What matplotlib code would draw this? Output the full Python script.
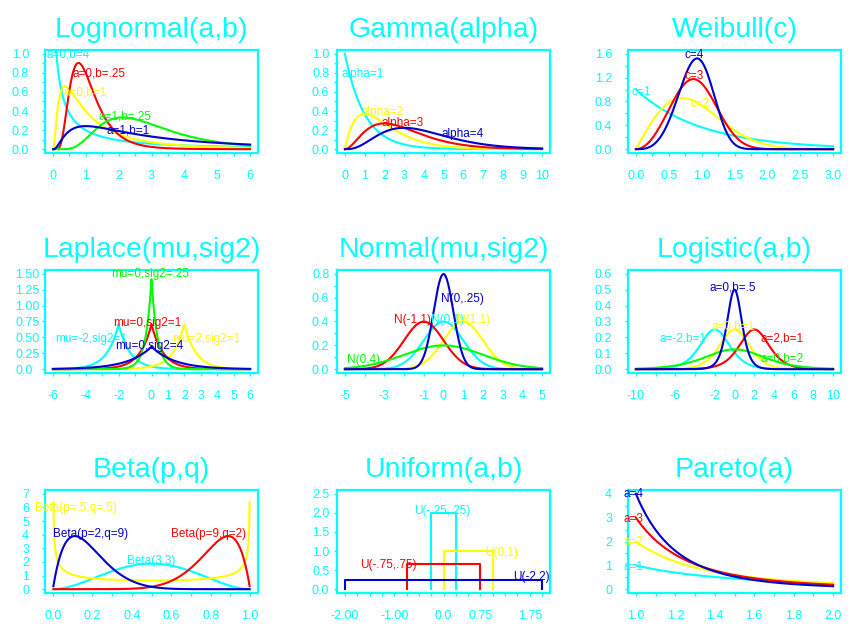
import math
import numpy as np
import matplotlib
matplotlib.use("Agg")
import matplotlib.pyplot as plt

plt.rcParams["font.family"] = ["Liberation Sans", "DejaVu Sans"]

CYAN = "#00ffff"
YELLOW = "#ffff00"
RED = "#ff0000"
GREEN = "#00ff00"
BLUE = "#0000cc"

# Lognormal(a,b): a = mean of log, b = variance of log
logn_a = [0, 0, 0, 1, 1]
logn_b = [4, 1, 0.25, 0.25, 1]
logn_colors = [CYAN, YELLOW, RED, GREEN, BLUE]
logn_labels = ["a=0,b=4", "a=0,b=1", "a=0,b=.25", "a=1,b=.25", "a=1,b=1"]
logn_lx = [0.45, 0.97, 1.39, 2.18, 2.28]
logn_ly = [0.99, 0.59, 0.79, 0.34, 0.195]

# Gamma(alpha)
gamma_alpha = [1, 2, 3, 4]
gamma_colors = [CYAN, YELLOW, RED, BLUE]
gamma_labels = ["alpha=1", "alpha=2", "alpha=3", "alpha=4"]
gamma_lx = [0.91, 1.93, 2.94, 5.96]
gamma_ly = [0.79, 0.386, 0.27, 0.16]

# Weibull(c)
weib_c = [1, 2, 3, 4]
weib_colors = [CYAN, YELLOW, RED, BLUE]
weib_labels = ["c=1", "c=2", "c=3", "c=4"]
weib_lx = [0.08, 0.98, 0.88, 0.88]
weib_ly = [0.965, 0.76, 1.23, 1.58]

# Laplace(mu,sig2)
lap_mu = [-2, 2, 0, 0, 0]
lap_sig2 = [1, 1, 1, 0.25, 4]
lap_colors = [CYAN, YELLOW, RED, GREEN, BLUE]
lap_labels = ["mu=-2,sig2=1", "mu=2,sig2=1", "mu=0,sig2=1", "mu=0,sig2=.25", "mu=0,sig2=4"]
lap_lx = [-3.65, 3.35, -0.23, -0.1, -0.11]
lap_ly = [0.47, 0.47, 0.73, 1.49, 0.37]

# Normal(mu,sig2)
norm_mu = [0, 1, -1, 0, 0]
norm_sig2 = [1, 1, 1, 4, 0.25]
norm_colors = [CYAN, YELLOW, RED, GREEN, BLUE]
norm_labels = ["N(0,1)", "N(1,1)", "N(-1,1)", "N(0,4)", "N(0,.25)"]
norm_lx = [0.22, 1.54, -1.55, -4.06, 0.96]
norm_ly = [0.41, 0.41, 0.41, 0.077, 0.587]

# Logistic(a,b)
logi_a = [-2, 0, 2, 0, 0]
logi_b = [1, 1, 1, 2, 0.5]
logi_colors = [CYAN, YELLOW, RED, GREEN, BLUE]
logi_labels = ["a=-2,b=1", "a=0,b=1", "a=2,b=1", "a=0,b=2", "a=0,b=.5"]
logi_lx = [-5.23, -0.1, 4.83, 4.8, -0.15]
logi_ly = [0.19, 0.27, 0.19, 0.068, 0.515]

# Beta(p,q)
beta_p = [3, 0.5, 9, 2]
beta_q = [3, 0.5, 2, 9]
beta_colors = [CYAN, YELLOW, RED, BLUE]
beta_labels = ["Beta(3,3)", "Beta(p=.5,q=.5)", "Beta(p=9,q=2)", "Beta(p=2,q=9)"]
beta_lx = [0.496, 0.115, 0.79, 0.19]
beta_ly = [2.08, 5.96, 4.07, 4.07]

# Uniform(a,b)
unif_a = [-0.25, 0, -0.75, -2]
unif_b = [0.25, 1, 0.75, 2]
unif_colors = [CYAN, YELLOW, RED, BLUE]
unif_labels = ["U(-.25,.25)", "U(0,1)", "U(-.75,.75)", "U(-2,2)"]
unif_lx = [-0.02, 1.18, -1.12, 1.79]
unif_ly = [2.06, 0.95, 0.64, 0.33]

# Pareto(a)
par_a = [1, 2, 3, 4]
par_colors = [CYAN, YELLOW, RED, BLUE]
par_labels = ["a=1", "a=2", "a=3", "a=4"]
par_lx = [0.99, 0.99, 0.99, 0.99]
par_ly = [0.93, 1.99, 2.96, 4.0]


def style(ax, title, xlim, ylim, xt, xl, yt, yl, ypad=9):
    dx = 0.04 * (xlim[1] - xlim[0])
    dy = 0.04 * (ylim[1] - ylim[0])
    ax.set_xlim(xlim[0] - dx, xlim[1] + dx)
    ax.set_ylim(ylim[0] - dy, ylim[1] + dy)
    ax.set_xticks(xt)
    ax.set_xticklabels(xl)
    ax.set_yticks(yt)
    ax.set_yticklabels(yl)
    for s in ax.spines.values():
        s.set_color(CYAN)
        s.set_linewidth(1.6)
    ax.tick_params(colors=CYAN, labelcolor=CYAN, labelsize=9, length=2.5, width=1)
    ax.tick_params(axis="x", pad=10)
    ax.tick_params(axis="y", pad=ypad)
    ax.set_title(title, color=CYAN, fontsize=20.5, pad=9.5)


def put_text(ax, xs, ys, labels, colors):
    for x, y, s, c in zip(xs, ys, labels, colors):
        ax.text(x, y, s, color=c, fontsize=8.5, ha="center", va="center", clip_on=False)


def fmt(vals, keep, f):
    return [f.format(v) if k else "" for v, k in zip(vals, keep)]


fig = plt.figure(figsize=(8.5, 6.35), dpi=100)
W, H = 850.0, 635.0
lefts = [45, 337, 628]
tops = [50, 270, 490]
axs = []
for r in range(3):
    for c in range(3):
        axs.append(fig.add_axes([lefts[c] / W, 1 - (tops[r] + 103) / H, 213 / W, 103 / H]))

lw = 1.5

# Lognormal
ax = axs[0]
x = np.linspace(0.01, 6, 600)
for a, b, col in zip(logn_a, logn_b, logn_colors):
    s = math.sqrt(b)
    y = np.exp(-(np.log(x) - a) ** 2 / (2 * b)) / (x * s * math.sqrt(2 * math.pi))
    ax.plot(x, y, color=col, lw=lw)
put_text(ax, logn_lx, logn_ly, logn_labels, logn_colors)
xt = np.arange(0, 6.01, 0.5)
yt = np.arange(0, 1.01, 0.1)
style(ax, "Lognormal(a,b)", (0, 6), (0, 1), xt, fmt(xt, [v % 1 == 0 for v in xt], "{:.0f}"),
      yt, fmt(yt, [i % 2 == 0 for i in range(len(yt))], "{:.1f}"))

# Gamma
ax = axs[1]
x = np.linspace(0, 10, 500)
for al, col in zip(gamma_alpha, gamma_colors):
    y = x ** (al - 1) * np.exp(-x) / math.gamma(al)
    ax.plot(x, y, color=col, lw=lw)
put_text(ax, gamma_lx, gamma_ly, gamma_labels, gamma_colors)
xt = np.arange(0, 11, 1)
style(ax, "Gamma(alpha)", (0, 10), (0, 1), xt, ["{:d}".format(int(v)) for v in xt],
      yt, fmt(yt, [i % 2 == 0 for i in range(len(yt))], "{:.1f}"), ypad=3)

# Weibull
ax = axs[2]
x = np.linspace(0, 3, 500)
for cc, col in zip(weib_c, weib_colors):
    y = cc * x ** (cc - 1) * np.exp(-x ** cc)
    ax.plot(x, y, color=col, lw=lw)
put_text(ax, weib_lx, weib_ly, weib_labels, weib_colors)
xt = np.arange(0, 3.01, 0.25)
yt2 = np.arange(0, 1.61, 0.2)
style(ax, "Weibull(c)", (0, 3), (0, 1.6), xt, fmt(xt, [i % 2 == 0 for i in range(len(xt))], "{:.1f}"),
      yt2, fmt(yt2, [i % 2 == 0 for i in range(len(yt2))], "{:.1f}"))

# Laplace
ax = axs[3]
x = np.linspace(-6, 6, 1201)
for mu, s2, col in zip(lap_mu, lap_sig2, lap_colors):
    b = math.sqrt(s2 / 2)
    y = np.exp(-np.abs(x - mu) / b) / (2 * b)
    ax.plot(x, y, color=col, lw=lw)
put_text(ax, lap_lx, lap_ly, lap_labels, lap_colors)
xt = np.arange(-6, 7, 1)
yt3 = np.arange(0, 1.51, 0.25)
ylab = ["0.0"] + ["{:.2f}".format(v) for v in yt3[1:]]
style(ax, "Laplace(mu,sig2)", (-6, 6), (0, 1.5), xt,
      fmt(xt, [v not in (-5, -3, -1) for v in xt], "{:.0f}"), yt3, ylab, ypad=19)
for lab in ax.get_yticklabels():
    lab.set_horizontalalignment("left")

# Normal
ax = axs[4]
x = np.linspace(-5, 5, 500)
for mu, s2, col in zip(norm_mu, norm_sig2, norm_colors):
    y = np.exp(-(x - mu) ** 2 / (2 * s2)) / math.sqrt(2 * math.pi * s2)
    ax.plot(x, y, color=col, lw=lw)
put_text(ax, norm_lx, norm_ly, norm_labels, norm_colors)
xt = np.arange(-5, 6, 1)
yt4 = np.arange(0, 0.81, 0.1)
style(ax, "Normal(mu,sig2)", (-5, 5), (0, 0.8), xt,
      fmt(xt, [v not in (-4, -2) for v in xt], "{:.0f}"),
      yt4, fmt(yt4, [i % 2 == 0 for i in range(len(yt4))], "{:.1f}"), ypad=3)

# Logistic
ax = axs[5]
x = np.linspace(-10, 10, 500)
for a, b, col in zip(logi_a, logi_b, logi_colors):
    e = np.exp(-(x - a) / b)
    y = e / (b * (1 + e) ** 2)
    ax.plot(x, y, color=col, lw=lw)
put_text(ax, logi_lx, logi_ly, logi_labels, logi_colors)
xt = np.arange(-10, 11, 2)
yt5 = np.arange(0, 0.61, 0.1)
style(ax, "Logistic(a,b)", (-10, 10), (0, 0.6), xt,
      fmt(xt, [v not in (-8, -4) for v in xt], "{:.0f}"), yt5, ["{:.1f}".format(v) for v in yt5])

# Beta
ax = axs[6]
x = np.linspace(0.0025, 0.9975, 600)
for p, q, col in zip(beta_p, beta_q, beta_colors):
    B = math.gamma(p) * math.gamma(q) / math.gamma(p + q)
    y = x ** (p - 1) * (1 - x) ** (q - 1) / B
    ax.plot(x, y, color=col, lw=lw)
put_text(ax, beta_lx, beta_ly, beta_labels, beta_colors)
xt = np.arange(0, 1.01, 0.1)
yt6 = np.arange(0, 8, 1)
style(ax, "Beta(p,q)", (0, 1), (0, 7), xt, fmt(xt, [i % 2 == 0 for i in range(len(xt))], "{:.1f}"),
      yt6, ["{:d}".format(int(v)) for v in yt6])

# Uniform
ax = axs[7]
for a, b, col in zip(unif_a, unif_b, unif_colors):
    h = 1.0 / (b - a)
    ax.plot([a, a, b, b], [0, h, h, 0], color=col, lw=lw)
put_text(ax, unif_lx, unif_ly, unif_labels, unif_colors)
xt = np.arange(-2, 2.01, 0.25)
xl = [{-2.0: "-2.00", -1.0: "-1.00", 0.0: "0.0", 0.75: "0.75", 1.75: "1.75"}.get(round(v, 2), "") for v in xt]
yt7 = np.arange(0, 2.51, 0.5)
style(ax, "Uniform(a,b)", (-2, 2), (0, 2.5), xt, xl, yt7, ["{:.1f}".format(v) for v in yt7], ypad=3)

# Pareto
ax = axs[8]
x = np.linspace(1, 2, 400)
for a, col in zip(par_a, par_colors):
    y = a / x ** (a + 1)
    ax.plot(x, y, color=col, lw=lw)
put_text(ax, par_lx, par_ly, par_labels, par_colors)
xt = np.arange(1, 2.01, 0.1)
yt8 = np.arange(0, 4.01, 0.5)
style(ax, "Pareto(a)", (1, 2), (0, 4), xt, fmt(xt, [i % 2 == 0 for i in range(len(xt))], "{:.1f}"),
      yt8, fmt(yt8, [v % 1 == 0 for v in yt8], "{:.0f}"))

fig.savefig("out.png", dpi=100, facecolor="white")
